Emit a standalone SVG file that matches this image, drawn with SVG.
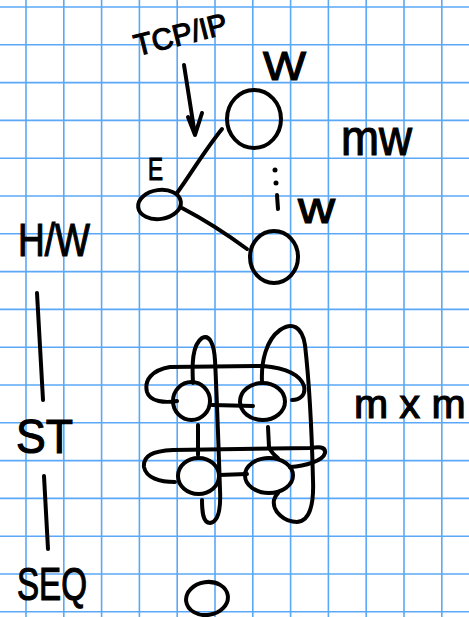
<svg xmlns="http://www.w3.org/2000/svg" width="469" height="617" viewBox="0 0 469 617">
<style>
.grid line{stroke:#5aa8f7;stroke-width:1.6}
.ink{fill:none;stroke:#000;stroke-width:4;stroke-linecap:round;stroke-linejoin:round}
.lbl{font-family:"Liberation Sans",Arial,sans-serif;fill:#000;stroke:#000;stroke-width:1.2}
</style>
<rect x="0" y="0" width="469" height="617" fill="#fff"/>
<g class="grid" id="grid">
<line x1="26" y1="0" x2="26" y2="617"/><line x1="63.8" y1="0" x2="63.8" y2="617"/><line x1="101.6" y1="0" x2="101.6" y2="617"/><line x1="139.4" y1="0" x2="139.4" y2="617"/><line x1="177.2" y1="0" x2="177.2" y2="617"/><line x1="215" y1="0" x2="215" y2="617"/><line x1="252.8" y1="0" x2="252.8" y2="617"/><line x1="290.6" y1="0" x2="290.6" y2="617"/><line x1="328.4" y1="0" x2="328.4" y2="617"/><line x1="366.2" y1="0" x2="366.2" y2="617"/><line x1="404" y1="0" x2="404" y2="617"/><line x1="441.8" y1="0" x2="441.8" y2="617"/>
<line x1="0" y1="7" x2="469" y2="7"/><line x1="0" y1="44.8" x2="469" y2="44.8"/><line x1="0" y1="82.6" x2="469" y2="82.6"/><line x1="0" y1="120.4" x2="469" y2="120.4"/><line x1="0" y1="158.2" x2="469" y2="158.2"/><line x1="0" y1="196" x2="469" y2="196"/><line x1="0" y1="233.8" x2="469" y2="233.8"/><line x1="0" y1="271.6" x2="469" y2="271.6"/><line x1="0" y1="309.4" x2="469" y2="309.4"/><line x1="0" y1="347.2" x2="469" y2="347.2"/><line x1="0" y1="385" x2="469" y2="385"/><line x1="0" y1="422.8" x2="469" y2="422.8"/><line x1="0" y1="460.6" x2="469" y2="460.6"/><line x1="0" y1="498.4" x2="469" y2="498.4"/><line x1="0" y1="536.2" x2="469" y2="536.2"/><line x1="0" y1="574" x2="469" y2="574"/><line x1="0" y1="611.8" x2="469" y2="611.8"/>
</g>
<g id="connectors" class="ink">
<path d="M184,65 L195,135 M188,117 L195,135 L202,113"/>
<path d="M177,193 C190,175 205,150 222,129"/>
<path d="M182,208 C205,220 228,235 247,249"/>
<path d="M37,293 L43,400"/>
<path d="M44,476 L48,549"/>
<path d="M212,405 L253,406"/>
<path d="M219,475 L247,474"/>
<path d="M198,425 L198,455"/>
<path d="M268,427 L269,447 C271,452 274,455 278,458"/>
<path d="M177,401 C165,403 150,402 147,392 C144,380 152,370 170,367 L263,366 C285,368 300,374 304,386 C306,395 300,400 292,400"/>
<path d="M175,482 C160,482 146,478 144,467 C143,456 152,451 173,450 L310,448 C318,447 326,446 325,453 C323,461 305,466 290,467"/>
<path d="M193,383 C192,365 192,345 202,338 C210,334 214,345 215,360 C217,400 219,460 220,490 C221,510 218,522 210,523 C203,523 202,512 202,500"/>
<path d="M262,382 C261,362 266,340 280,330 C292,322 302,326 305,345 C309,380 312,440 313,480 C314,505 310,521 297,522 C285,522 272,512 274,500 C275,496 277,494 278,493"/>
</g>
<g id="node-E" class="ink"><ellipse cx="159.5" cy="204.5" rx="21.5" ry="14.5" transform="rotate(-8 159.5 204.5)"/></g>
<g id="node-W-top" class="ink"><ellipse cx="254" cy="119" rx="27" ry="29"/></g>
<g id="node-W-bottom" class="ink"><ellipse cx="274" cy="257" rx="24" ry="26"/></g>
<g id="ellipsis-dots"><circle cx="275" cy="170" r="2.5"/><circle cx="276" cy="183" r="2.5"/><path class="ink" d="M277,195 L278,209"/></g>
<g id="node-mesh-11" class="ink"><ellipse cx="191.5" cy="401" rx="18.5" ry="19"/></g>
<g id="node-mesh-12" class="ink"><ellipse cx="262.5" cy="401.5" rx="22.5" ry="18.5"/></g>
<g id="node-mesh-21" class="ink"><ellipse cx="198.5" cy="476" rx="20.5" ry="18"/></g>
<g id="node-mesh-22" class="ink"><ellipse cx="269" cy="475.5" rx="24" ry="17.5"/></g>
<g id="node-seq" class="ink"><ellipse cx="207" cy="598.5" rx="21" ry="16.5" transform="rotate(-8 207 598.5)"/></g>
<g id="labels">
<text class="lbl" x="137" y="56" font-size="30" textLength="95" lengthAdjust="spacingAndGlyphs" transform="rotate(-14 137 56)">TCP/IP</text>
<text class="lbl" x="263" y="80" font-size="40" textLength="43" lengthAdjust="spacingAndGlyphs">W</text>
<text class="lbl" x="341" y="155" font-size="50" textLength="71" lengthAdjust="spacingAndGlyphs">mw</text>
<text class="lbl" x="148" y="180" font-size="32" textLength="15" lengthAdjust="spacingAndGlyphs">E</text>
<text class="lbl" x="298" y="223" font-size="44" textLength="37" lengthAdjust="spacingAndGlyphs">w</text>
<text class="lbl" x="18" y="256" font-size="46" textLength="72" lengthAdjust="spacingAndGlyphs">H/W</text>
<text class="lbl" x="16" y="453" font-size="48" textLength="57" lengthAdjust="spacingAndGlyphs">ST</text>
<text class="lbl" x="17" y="600" font-size="46" textLength="70" lengthAdjust="spacingAndGlyphs">SEQ</text>
<text class="lbl" x="354" y="418" font-size="41">m x m</text>
</g>
</svg>
